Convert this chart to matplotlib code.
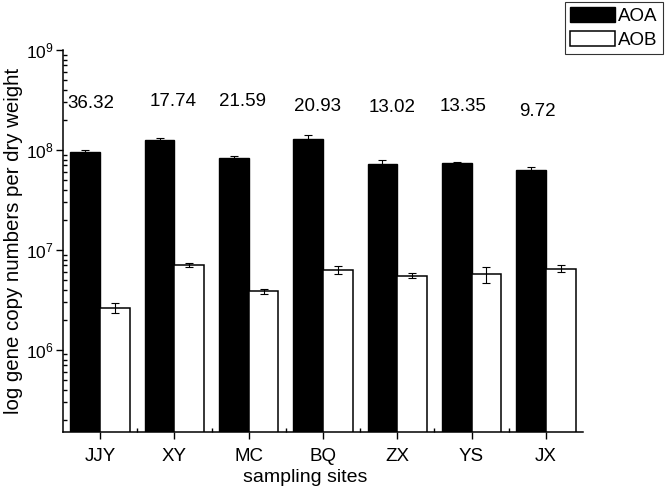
import numpy as np
import matplotlib
matplotlib.use("Agg")
import matplotlib.pyplot as plt
from matplotlib.ticker import LogLocator, FixedLocator, NullFormatter

plt.rcParams['font.family'] = ['Liberation Sans', 'DejaVu Sans']
plt.rcParams['mathtext.fontset'] = 'custom'
plt.rcParams['mathtext.rm'] = 'Liberation Sans'
plt.rcParams['mathtext.it'] = 'Liberation Sans:italic'
plt.rcParams['mathtext.bf'] = 'Liberation Sans:bold'

# ---- data ----
sites = ["JJY", "XY", "MC", "BQ", "ZX", "YS", "JX"]
aoa = [9.5e7, 1.25e8, 8.3e7, 1.30e8, 7.2e7, 7.45e7, 6.35e7]
aoa_err = [4e6, 7e6, 5e6, 1.0e7, 8e6, 2e6, 4e6]
aob = [2.65e6, 7.05e6, 3.85e6, 6.3e6, 5.55e6, 5.7e6, 6.5e6]
aob_err = [3.3e5, 3.2e5, 2.1e5, 6e5, 3.2e5, 1.0e6, 5e5]
ratios = ["36.32", "17.74", "21.59", "20.93", "13.02", "13.35", "9.72"]

# ---- label placement (style) ----
ratio_dx = [-0.12, -0.02, -0.08, -0.07, -0.07, -0.12, -0.12]
ratio_y = [2.95e8, 3.05e8, 3.05e8, 2.7e8, 2.65e8, 2.7e8, 2.45e8]

fig = plt.figure(figsize=(6.66, 4.90), dpi=100)
ax = fig.add_axes([63/666, 1-431.7/490, (583-63)/666, (431.7-50)/490])

x = np.arange(len(sites))
w = 0.4
ax.bar(x - w/2, aoa, width=w, color='black', edgecolor='black', linewidth=1.0,
       label='AOA', zorder=2)
ax.bar(x + w/2, aob, width=w, color='white', edgecolor='black', linewidth=1.1,
       label='AOB', zorder=2)
ax.errorbar(x - w/2, aoa, yerr=aoa_err, fmt='none', ecolor='black',
            elinewidth=0.8, capsize=3, capthick=0.8, zorder=3)
ax.errorbar(x + w/2, aob, yerr=aob_err, fmt='none', ecolor='black',
            elinewidth=0.8, capsize=3, capthick=0.8, zorder=3)

ax.set_yscale('log')
ax.set_ylim(1.52e5, 1e9)
ax.set_xlim(-0.5, len(sites) - 0.5)

for i, t in enumerate(ratios):
    ax.text(x[i] + ratio_dx[i], ratio_y[i], t, ha='center', va='center',
            fontsize=13.5)

ax.set_xticks(x)
ax.set_xticklabels(sites, fontsize=13.5)
ax.xaxis.set_minor_locator(FixedLocator(x[:-1] + 0.5))
ax.tick_params(axis='x', which='major', direction='out', length=5, width=1.0, pad=7)
ax.tick_params(axis='x', which='minor', direction='in', length=3, width=1.0)

ax.yaxis.set_major_locator(LogLocator(base=10, numticks=10))
ax.yaxis.set_minor_locator(LogLocator(base=10, subs=np.arange(2, 10), numticks=100))
ax.yaxis.set_minor_formatter(NullFormatter())
ax.tick_params(axis='y', which='major', direction='out', length=5, width=1.0,
               labelsize=12.5, pad=2)
ax.tick_params(axis='y', which='minor', direction='in', length=3, width=1.0)

for s in ['top', 'right']:
    ax.spines[s].set_visible(False)
for s in ['left', 'bottom']:
    ax.spines[s].set_linewidth(1.1)

ax.set_xlabel('sampling sites', fontsize=14)
ax.xaxis.set_label_coords((305 - 63) / 520, -0.097)
ax.set_ylabel('log gene copy numbers per dry weight', fontsize=14.7, labelpad=2)

leg = fig.legend(loc='upper right', bbox_to_anchor=(663/666, 1 - 2/490),
                 fontsize=13.5, frameon=True, fancybox=False, edgecolor='black',
                 handlelength=2.4, handleheight=0.85, handletextpad=0.15,
                 borderpad=0.28, labelspacing=0.3, borderaxespad=0)
leg.get_frame().set_linewidth(0.8)

fig.savefig('out.png', dpi=100)
